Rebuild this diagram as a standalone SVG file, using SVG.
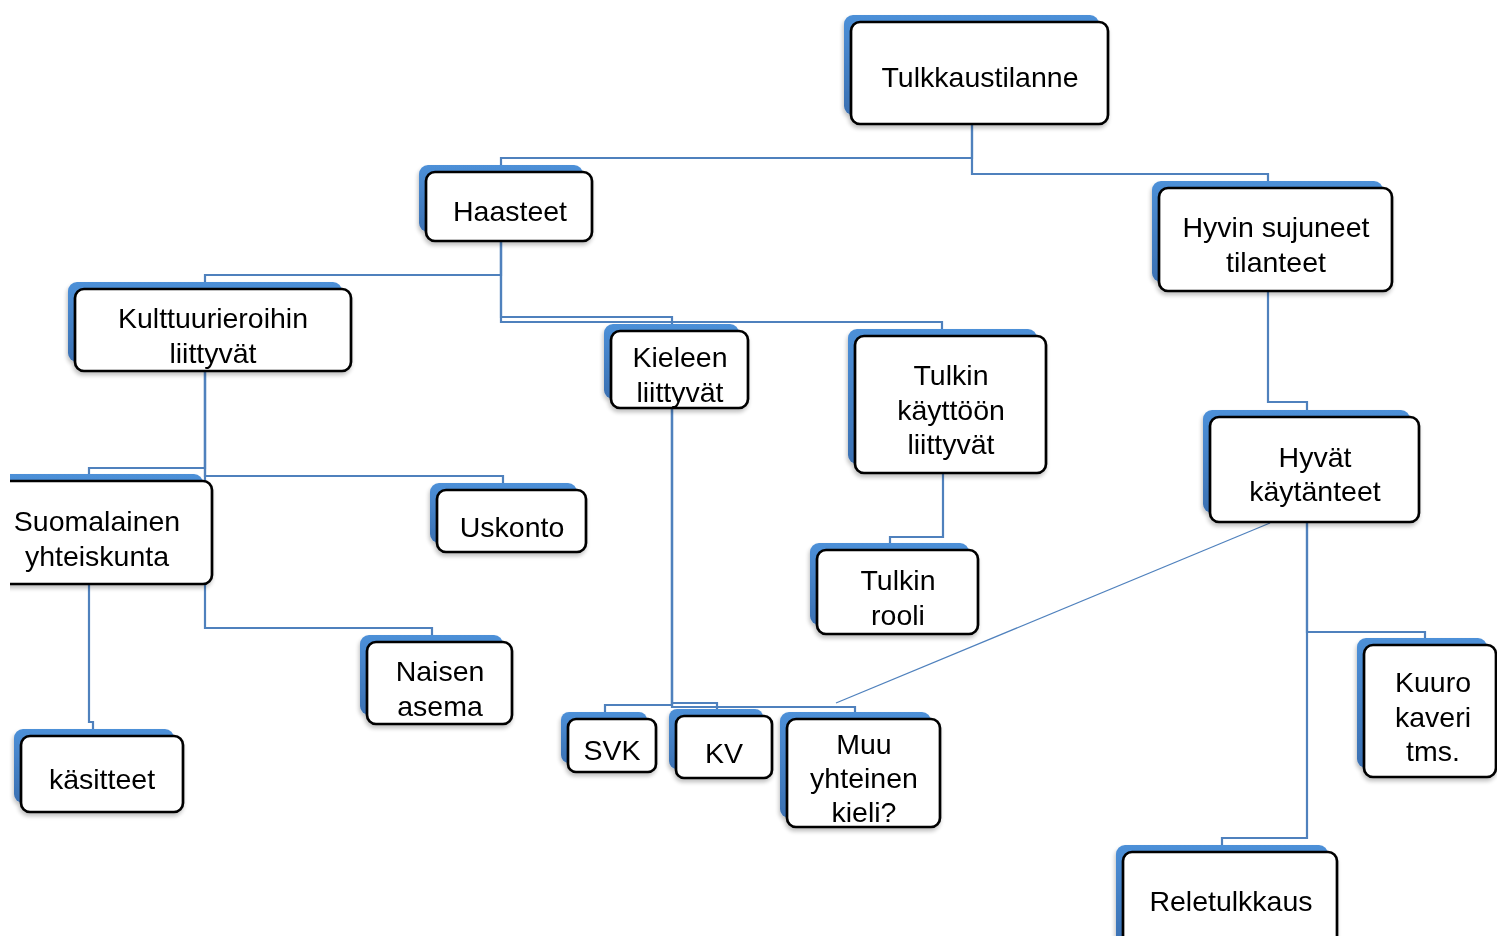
<svg xmlns="http://www.w3.org/2000/svg" width="1497" height="936" viewBox="0 0 1497 936">
<defs>
<linearGradient id="bg" x1="0" y1="0" x2="0" y2="1">
<stop offset="0" stop-color="#4D90D8"/>
<stop offset="1" stop-color="#3A70B2"/>
</linearGradient>
<clipPath id="clipL"><rect x="10" y="0" width="1487" height="936"/></clipPath>
<filter id="sh" x="-10%" y="-10%" width="130%" height="130%">
<feGaussianBlur in="SourceAlpha" stdDeviation="2"/>
<feOffset dx="-1" dy="3" result="b"/>
<feComponentTransfer><feFuncA type="linear" slope="0.25"/></feComponentTransfer>
<feMerge><feMergeNode/><feMergeNode in="SourceGraphic"/></feMerge>
</filter>
</defs>
<style>
.bk{fill:url(#bg);}
.fr{fill:#ffffff;stroke:#000000;stroke-width:2.7;}
.t{font-family:"Liberation Sans",Arial,sans-serif;font-size:28.5px;fill:#000000;text-anchor:middle;}
.c{fill:none;stroke:#4F81BD;stroke-width:2.2;}
.d{fill:none;stroke:#4F81BD;stroke-width:1.2;}
</style>
<rect width="1497" height="936" fill="#ffffff"/>
<g id="connectors">
<polyline class="c" points="972,124 972,158 501,158 501,172"/>
<polyline class="c" points="972,124 972,174 1268,174 1268,188"/>
<polyline class="c" points="501,241 501,275 205,275 205,289"/>
<polyline class="c" points="501,241 501,317 672,317 672,324"/>
<polyline class="c" points="501,241 501,322 942,322 942,329"/>
<polyline class="c" points="205,371 205,468 89,468 89,474"/>
<polyline class="c" points="205,371 205,476 503,476 503,483"/>
<polyline class="c" points="205,371 205,628 432,628 432,635"/>
<polyline class="c" points="89,584 89,722 93,722 93,729"/>
<polyline class="c" points="672,408 672,705 605,705 605,712"/>
<polyline class="c" points="672,408 672,703 717,703 717,709"/>
<polyline class="c" points="672,408 672,707 855,707 855,712"/>
<polyline class="c" points="943,473 943,537 890,537 890,543"/>
<polyline class="c" points="1268,291 1268,402 1307,402 1307,410"/>
<polyline class="c" points="1307,522 1307,632 1425,632 1425,638"/>
<polyline class="c" points="1307,522 1307,838 1222,838 1222,845"/>
<line class="d" x1="1270" y1="523" x2="836" y2="703"/>
</g>
<g id="n1" filter="url(#sh)"><rect class="bk" x="844" y="15" width="255" height="100" rx="9"/><rect class="fr" x="851" y="22" width="257" height="102" rx="9"/><text class="t" x="980" y="87">Tulkkaustilanne</text></g>
<g id="n2" filter="url(#sh)"><rect class="bk" x="419" y="165" width="164" height="67" rx="9"/><rect class="fr" x="426" y="172" width="166" height="69" rx="9"/><text class="t" x="510" y="221">Haasteet</text></g>
<g id="n3" filter="url(#sh)"><rect class="bk" x="1152" y="181" width="231" height="101" rx="9"/><rect class="fr" x="1159" y="188" width="233" height="103" rx="9"/><text class="t" x="1276" y="237">Hyvin sujuneet</text><text class="t" x="1276" y="272">tilanteet</text></g>
<g id="n4" filter="url(#sh)"><rect class="bk" x="68" y="282" width="274" height="80" rx="9"/><rect class="fr" x="75" y="289" width="276" height="82" rx="9"/><text class="t" x="213" y="328">Kulttuurieroihin</text><text class="t" x="213" y="363">liittyvät</text></g>
<g id="n5" filter="url(#sh)"><rect class="bk" x="604" y="324" width="135" height="75" rx="9"/><rect class="fr" x="611" y="331" width="137" height="77" rx="9"/><text class="t" x="680" y="367">Kieleen</text><text class="t" x="680" y="402">liittyvät</text></g>
<g id="n6" filter="url(#sh)"><rect class="bk" x="848" y="329" width="189" height="135" rx="9"/><rect class="fr" x="855" y="336" width="191" height="137" rx="9"/><text class="t" x="951" y="385">Tulkin</text><text class="t" x="951" y="420">käyttöön</text><text class="t" x="951" y="454">liittyvät</text></g>
<g id="n7" filter="url(#sh)"><rect class="bk" x="1203" y="410" width="207" height="103" rx="9"/><rect class="fr" x="1210" y="417" width="209" height="105" rx="9"/><text class="t" x="1315" y="467">Hyvät</text><text class="t" x="1315" y="501">käytänteet</text></g>
<g id="n8" clip-path="url(#clipL)"><g filter="url(#sh)"><rect class="bk" x="-27" y="474" width="230" height="101" rx="9"/><rect class="fr" x="-20" y="481" width="232" height="103" rx="9"/><text class="t" x="97" y="531">Suomalainen</text><text class="t" x="97" y="566">yhteiskunta</text></g></g>
<g id="n9" filter="url(#sh)"><rect class="bk" x="430" y="483" width="147" height="60" rx="9"/><rect class="fr" x="437" y="490" width="149" height="62" rx="9"/><text class="t" x="512" y="537">Uskonto</text></g>
<g id="n10" filter="url(#sh)"><rect class="bk" x="810" y="543" width="159" height="82" rx="9"/><rect class="fr" x="817" y="550" width="161" height="84" rx="9"/><text class="t" x="898" y="590">Tulkin</text><text class="t" x="898" y="625">rooli</text></g>
<g id="n11" filter="url(#sh)"><rect class="bk" x="360" y="635" width="143" height="80" rx="9"/><rect class="fr" x="367" y="642" width="145" height="82" rx="9"/><text class="t" x="440" y="681">Naisen</text><text class="t" x="440" y="716">asema</text></g>
<g id="n12" filter="url(#sh)"><rect class="bk" x="14" y="729" width="160" height="74" rx="9"/><rect class="fr" x="21" y="736" width="162" height="76" rx="9"/><text class="t" x="102" y="789">käsitteet</text></g>
<g id="n13" filter="url(#sh)"><rect class="bk" x="561" y="712" width="86" height="51" rx="8"/><rect class="fr" x="568" y="719" width="88" height="53" rx="8"/><text class="t" x="612" y="760">SVK</text></g>
<g id="n14" filter="url(#sh)"><rect class="bk" x="669" y="709" width="94" height="60" rx="8"/><rect class="fr" x="676" y="716" width="96" height="62" rx="8"/><text class="t" x="724" y="763">KV</text></g>
<g id="n15" filter="url(#sh)"><rect class="bk" x="780" y="712" width="151" height="106" rx="9"/><rect class="fr" x="787" y="719" width="153" height="108" rx="9"/><text class="t" x="864" y="754">Muu</text><text class="t" x="864" y="788">yhteinen</text><text class="t" x="864" y="822">kieli?</text></g>
<g id="n16" filter="url(#sh)"><rect class="bk" x="1357" y="638" width="130" height="130" rx="9"/><rect class="fr" x="1364" y="645" width="132" height="132" rx="9"/><text class="t" x="1433" y="692">Kuuro</text><text class="t" x="1433" y="727">kaveri</text><text class="t" x="1433" y="761">tms.</text></g>
<g id="n17" filter="url(#sh)"><rect class="bk" x="1116" y="845" width="212" height="100" rx="9"/><rect class="fr" x="1123" y="852" width="214" height="100" rx="9"/><text class="t" x="1231" y="911">Reletulkkaus</text></g>
</svg>
